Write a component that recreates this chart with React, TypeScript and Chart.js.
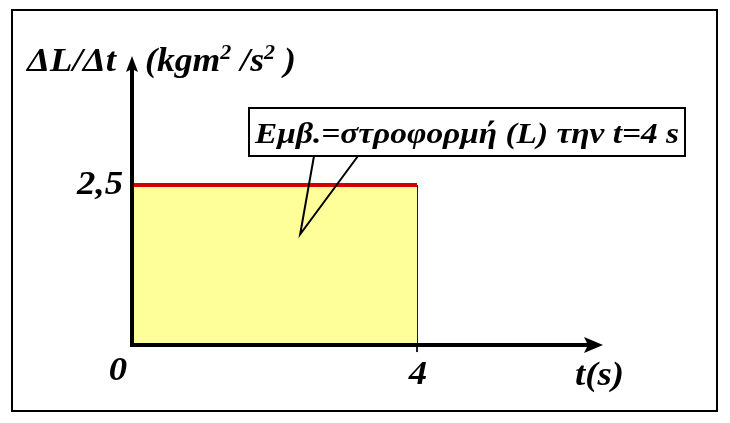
import { useEffect, useRef } from "react";
import { Chart, registerables } from "chart.js";

Chart.register(...registerables);

// step graph: rate of change of angular momentum vs time
const timeValues = [0, 4];
const rateValues = [2.5, 2.5];
const xTickValues = [0, 4];
const xTickLabels = ["0", "4"];
const yTickValues = [2.5];
const yTickLabels = ["2,5"];
const yAxisName = "ΔL/Δt";
const yAxisUnit = ["(kgm", "2", " /s", "2", " )"];
const xAxisName = "t(s)";
const calloutText = "Εμβ.=στροφορμή (L) την t=4 s";
const calloutTarget = { x: 2.36, y: 1.73 };

const FONT = "'Liberation Serif', 'Times New Roman', serif";
const STRETCH = 1.08; // the original lettering is a bit wider than plain Times

function stretchedText(
  ctx: CanvasRenderingContext2D,
  text: string,
  x: number,
  y: number,
  align: CanvasTextAlign,
  sx = STRETCH
) {
  ctx.save();
  ctx.translate(x, y);
  ctx.scale(sx, 1);
  ctx.textAlign = align;
  ctx.fillText(text, 0, 0);
  ctx.restore();
  return ctx.measureText(text).width * sx;
}

function arrowHead(
  ctx: CanvasRenderingContext2D,
  tipX: number,
  tipY: number,
  dir: "up" | "right"
) {
  ctx.beginPath();
  if (dir === "up") {
    ctx.moveTo(tipX, tipY);
    ctx.lineTo(tipX - 6, tipY + 16);
    ctx.lineTo(tipX, tipY + 13);
    ctx.lineTo(tipX + 6, tipY + 16);
  } else {
    ctx.moveTo(tipX, tipY);
    ctx.lineTo(tipX - 19, tipY - 8);
    ctx.lineTo(tipX - 15, tipY);
    ctx.lineTo(tipX - 19, tipY + 8);
  }
  ctx.closePath();
  ctx.fill();
}

const decorPlugin = {
  id: "decor",
  afterDatasetsDraw(chart: Chart) {
    const { ctx, chartArea } = chart;
    const xs = chart.scales.x;
    const ys = chart.scales.y;
    const x0 = xs.getPixelForValue(0);
    const y0 = ys.getPixelForValue(0);
    ctx.save();

    // outer frame
    ctx.strokeStyle = "#000";
    ctx.lineWidth = 2;
    ctx.strokeRect(12, 10, 705, 401);

    // axes
    ctx.fillStyle = "#000";
    ctx.lineWidth = 4;
    ctx.beginPath();
    ctx.moveTo(x0, y0 + 2);
    ctx.lineTo(x0, chartArea.top + 8);
    ctx.moveTo(x0 - 2, y0);
    ctx.lineTo(chartArea.right - 10, y0);
    ctx.stroke();
    arrowHead(ctx, x0, chartArea.top - 1, "up");
    arrowHead(ctx, chartArea.right, y0, "right");

    // tick labels
    ctx.font = `italic bold 34px ${FONT}`;
    ctx.textBaseline = "alphabetic";
    xTickValues.forEach((v, i) => {
      const px = xs.getPixelForValue(v);
      const dx = v === 0 ? -14 : 1;
      stretchedText(ctx, xTickLabels[i], px + dx, v === 0 ? 380 : 384, "center");
    });
    yTickValues.forEach((v, i) => {
      stretchedText(ctx, yTickLabels[i], x0 - 9, ys.getPixelForValue(v) + 9, "right");
    });

    // axis names
    stretchedText(ctx, xAxisName, 575, 385, "left");
    stretchedText(ctx, yAxisName, 27, 71, "left");
    let ux = 145;
    yAxisUnit.forEach((part, i) => {
      const sup = i % 2 === 1;
      ctx.font = sup
        ? `italic bold 21px ${FONT}`
        : `italic bold 34px ${FONT}`;
      ux += stretchedText(ctx, part, ux, sup ? 59 : 71, "left", 1.05);
    });

    // callout
    const tx = xs.getPixelForValue(calloutTarget.x);
    const ty = ys.getPixelForValue(calloutTarget.y);
    ctx.lineWidth = 2;
    ctx.beginPath();
    ctx.moveTo(314, 156);
    ctx.lineTo(tx, ty);
    ctx.lineTo(358, 156);
    ctx.stroke();
    ctx.fillStyle = "#fff";
    ctx.fillRect(249, 108, 436, 48);
    ctx.strokeRect(249, 108, 436, 48);
    ctx.fillStyle = "#000";
    ctx.font = `italic bold 29px ${FONT}`;
    stretchedText(ctx, calloutText, 467, 143, "center", 1.15);

    ctx.restore();
  },
};

export default function App() {
  const canvasRef = useRef<HTMLCanvasElement>(null);

  useEffect(() => {
    const canvas = canvasRef.current;
    if (!canvas) return;
    const chart = new Chart(canvas, {
      type: "line",
      data: {
        datasets: [
          {
            data: timeValues.map((t, i) => ({ x: t, y: rateValues[i] })),
            borderColor: "#d40000",
            borderWidth: 4,
            backgroundColor: "#ffff99",
            fill: "origin",
            pointRadius: 0,
            tension: 0,
            clip: false,
            order: 0,
          },
          {
            data: [
              { x: timeValues[1], y: rateValues[1] },
              { x: timeValues[1], y: -0.11 },
            ],
            borderColor: "#000",
            borderWidth: 1,
            pointRadius: 0,
            fill: false,
            clip: false,
            order: 1,
          },
        ],
      },
      options: {
        animation: false,
        responsive: true,
        maintainAspectRatio: false,
        layout: { padding: { left: 132, right: 127, top: 57, bottom: 78 } },
        plugins: {
          legend: { display: false },
          tooltip: { enabled: false },
        },
        scales: {
          x: { type: "linear", min: 0, max: 6.61, display: false },
          y: { type: "linear", min: 0, max: 4.5, display: false },
        },
      },
      plugins: [decorPlugin],
    });
    return () => chart.destroy();
  }, []);

  return (
    <div
      style={{
        position: "absolute",
        left: 0,
        top: 0,
        width: 730,
        height: 423,
        background: "#fff",
      }}
    >
      <canvas ref={canvasRef} />
    </div>
  );
}
